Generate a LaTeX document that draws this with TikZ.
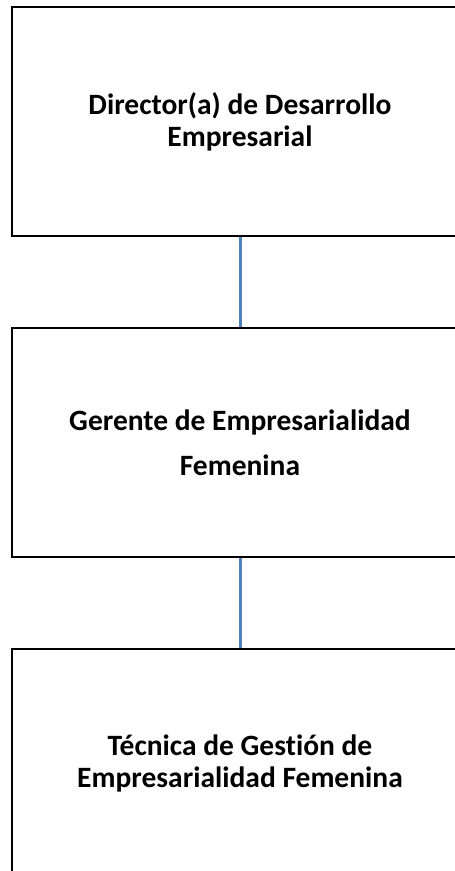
\documentclass[tikz,border=0pt]{standalone}
\usepackage{fontspec}
\setmainfont[Ligatures=NoCommon]{Carlito}
\definecolor{linkblue}{RGB}{79,129,189}
\begin{document}
\begin{tikzpicture}[x=1pt,y=1pt]
    \tikzstyle{every node}=[draw=black,line width=1.5pt,shape=rectangle,minimum width=456pt,minimum height=229pt,align=center,font=\bfseries\fontsize{29.5}{32}\selectfont];
    \tikzstyle{link}=[draw=linkblue,line width=3pt];
    \path[use as bounding box,clip] (0,0) rectangle (455,-871);
    \node at (240,-121.5) (dir) {Director(a) de Desarrollo\\Empresarial};
    \node at (240,-442.5) (ger) {Gerente de Empresarialidad\\[13pt]Femenina};
    \node at (240,-763.5) (tec) {Técnica de Gestión de\\Empresarialidad Femenina};

    \draw[link] (dir) -- (ger);
    \draw[link] (ger) -- (tec);
\end{tikzpicture}
\end{document}
